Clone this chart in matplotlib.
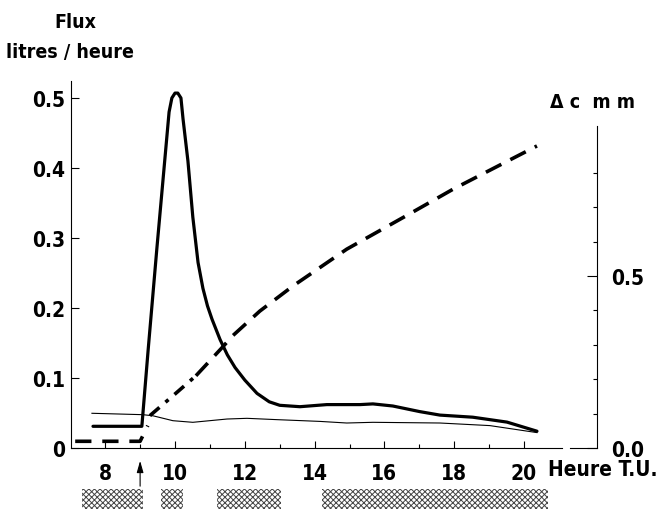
import matplotlib.pyplot as plt
from matplotlib.patches import Rectangle

plt.rcParams['font.family'] = ['DejaVu Sans']
plt.rcParams['font.stretch'] = 'condensed'
plt.rcParams['font.weight'] = 'bold'
plt.rcParams['hatch.linewidth'] = 0.7

# flux, litres/heure (thick line)
flux_t = [7.65, 9.05, 9.23, 9.48, 9.83, 9.91, 10.0, 10.08, 10.17, 10.23, 10.37, 10.51, 10.66,
          10.8, 10.93, 11.06, 11.29, 11.5, 11.72, 12.0, 12.35, 12.7, 13.0, 13.58, 14.35, 15.3,
          15.67, 16.24, 17.01, 17.59, 18.53, 19.51, 20.37]
flux_v = [0.031, 0.031, 0.140, 0.285, 0.48, 0.50, 0.507, 0.507, 0.50, 0.47, 0.41, 0.33, 0.265,
          0.228, 0.203, 0.184, 0.155, 0.133, 0.115, 0.097, 0.078, 0.066, 0.061, 0.059, 0.062, 0.062,
          0.063, 0.060, 0.052, 0.047, 0.044, 0.037, 0.024]

# second flux (thin line)
thin_t = [7.62, 9.08, 9.37, 9.94, 10.51, 11.49, 12.06, 12.92, 14.15, 14.92, 15.67, 17.59, 19.02, 20.37]
thin_v = [0.0496, 0.0476, 0.046, 0.039, 0.0367, 0.0414, 0.0424, 0.0405, 0.038, 0.0357, 0.0367,
          0.0357, 0.032, 0.022]

# delta c mm (right axis, dashed)
dc_t0 = [7.14, 9.0, 9.22]
dc_v0 = [0.0195, 0.0195, 0.065]
dc_t1 = [9.28, 10.0, 10.6]
dc_v1 = [0.094, 0.157, 0.21]
dc_t2 = [10.6, 11.35, 11.66, 12.43, 13.38, 14.92, 16.64, 17.96, 19.68, 20.37]
dc_v2 = [0.21, 0.292, 0.327, 0.398, 0.471, 0.578, 0.676, 0.752, 0.842, 0.878]

# shaded periods under the axis
bar_start = [7.33, 9.60, 11.20, 14.21]
bar_end = [9.08, 10.23, 13.03, 20.68]
arrow_t = 9.0

xticks = [8, 10, 12, 14, 16, 18, 20]
yticks_left = [0, 0.1, 0.2, 0.3, 0.4, 0.5]
ylabels_left = ['0', '0.1', '0.2', '0.3', '0.4', '0.5']

W, H = 664, 510
def fx(x): return x / W
def fy(y): return 1 - y / H

fig = plt.figure(figsize=(6.64, 5.10), dpi=100, facecolor='white')
ax = fig.add_axes([fx(71), fy(449), (597 - 71) / W, (449 - 82) / H])
ax.set_xlim(7.02, 22.09)
ax.set_ylim(0, 367 / 700)
ax2 = ax.twinx()
ax2.set_ylim(0, 367 / 344)

ax.plot(flux_t, flux_v, color='black', lw=2.3, solid_joinstyle='round', solid_capstyle='round')
ax.plot(thin_t, thin_v, color='black', lw=0.8)
ax2.plot(dc_t0, dc_v0, color='black', lw=2.6, dashes=(4.5, 3))
ax2.plot(dc_t1, dc_v1, color='black', lw=2.6, dashes=(3.5, 2.2, 1.1, 2.2))
ax2.plot(dc_t2, dc_v2, color='black', lw=2.6, dashes=(4.8, 2.8))

for s in ['top', 'right']:
  ax.spines[s].set_visible(False)
for s in ['top', 'left', 'bottom']:
  ax2.spines[s].set_visible(False)
ax.spines['left'].set_linewidth(0.8)
ax.spines['bottom'].set_linewidth(0.8)
ax.spines['bottom'].set_bounds(7.02, 21.08)
ax.plot([21.31, 22.09], [0, 0], color='black', lw=0.8, clip_on=False)
ax2.spines['right'].set_linewidth(0.8)
ax2.spines['right'].set_bounds(0, 0.936)

ax.set_xticks(xticks)
ax.set_xticklabels([str(t) for t in xticks])
ax.set_xticks(range(9, 21, 2), minor=True)
ax.tick_params(axis='x', which='major', direction='in', length=5, width=0.8, pad=11, labelsize=15)
ax.tick_params(axis='x', which='minor', direction='in', length=3, width=0.8)
ax.set_yticks(yticks_left)
ax.set_yticklabels(ylabels_left)
ax.tick_params(axis='y', direction='in', length=6, width=0.8, pad=4, labelsize=15)

ax2.set_yticks([0, 0.5])
ax2.set_yticklabels(['0.0', '0.5'])
ax2.set_yticks([0.1, 0.2, 0.3, 0.4, 0.6, 0.7, 0.8], minor=True)
ax2.tick_params(axis='y', which='major', direction='in', length=7, width=0.8, pad=10, labelsize=15)
ax2.tick_params(axis='y', which='minor', direction='in', length=3, width=0.8)

tr = ax.get_xaxis_transform()
for a, b in zip(bar_start, bar_end):
  ax.add_patch(Rectangle((a, -0.1662), b - a, 0.0545, transform=tr, clip_on=False,
                         facecolor='white', edgecolor='#444444', hatch='xxxxxx', lw=0))

ax.annotate('', xy=(arrow_t, -0.035), xytext=(arrow_t, -0.104), xycoords=tr, textcoords=tr,
            annotation_clip=False,
            arrowprops=dict(arrowstyle='-|>,head_length=0.7,head_width=0.2', lw=0.8,
                            color='black', shrinkA=0, shrinkB=0))

fig.text(fx(75), fy(22), 'Flux', ha='center', va='center', fontsize=14)
fig.text(fx(70), fy(53), 'litres / heure', ha='center', va='center', fontsize=14)
fig.text(fx(592), fy(103), 'Δ c  m m', ha='center', va='center', fontsize=14)
fig.text(fx(548), fy(470), 'Heure T.U.', ha='left', va='center', fontsize=15)

fig.savefig('out.png', dpi=100, facecolor='white')
